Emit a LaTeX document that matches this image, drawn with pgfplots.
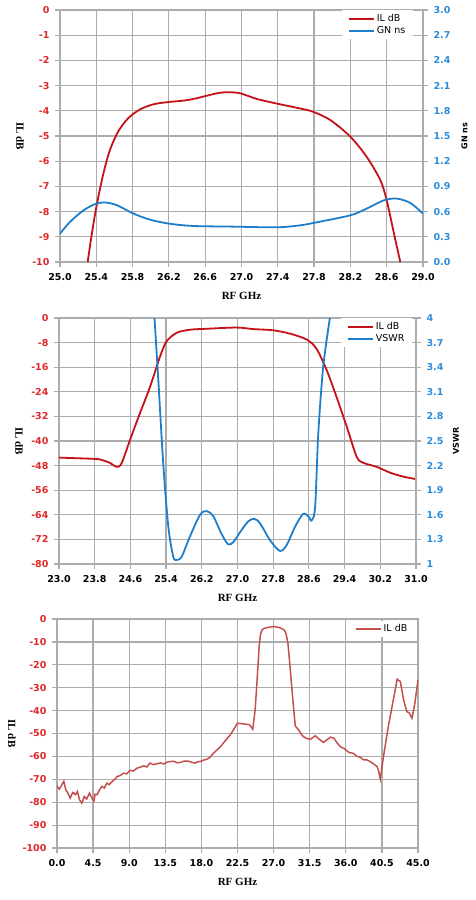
\documentclass[border=0pt]{standalone}
\usepackage{pgfplots}
\pgfplotsset{compat=1.18}
\usepackage{fontspec}
\setmainfont{DejaVu Sans}
\newfontfamily\serifB{Liberation Serif}
\newfontfamily\sansA{DejaVu Sans}
\newcommand\tickfont{\sansA\bfseries\fontsize{9.5}{10}\selectfont}
\newcommand\labfont{\serifB\bfseries\fontsize{11}{12}\selectfont}
\newcommand\rlabfont{\sansA\bfseries\fontsize{8}{10}\selectfont}
\newcommand\legfont{\sansA\fontsize{9.5}{11}\selectfont}
\definecolor{ilred}{RGB}{196,18,24}
\definecolor{gnblue}{RGB}{30,126,204}
\definecolor{tickred}{RGB}{224,40,40}
\definecolor{tickblue}{RGB}{44,140,220}
\definecolor{gridgray}{RGB}{172,172,172}
\definecolor{cthree}{RGB}{196,80,77}
\pgfplotsset{
  mybase/.style={
    scale only axis,
    axis line style={gridgray, line width=1.2pt},
    every tick/.style={gridgray, line width=1.2pt},
    tick align=outside,
    major tick length=5pt,
    ticklabel style={font=\tickfont},
    xticklabel style={black, yshift=-3pt},
    every axis x label/.style={at={(axis description cs:0.5,0)}, yshift=-34pt, anchor=center, font=\labfont},
    legend cell align=left,
    legend image code/.code={\draw[##1, line width=1.9pt] (0pt,0pt) -- (25pt,0pt);},
  },
  leftax/.style={
    mybase,
    tick pos=left,
    grid=major,
    grid style={gridgray, line width=1.2pt},
    yticklabel style={tickred, xshift=-2pt},
    every axis y label/.style={at={(axis description cs:#1,0.5)}, rotate=-90, anchor=center, font=\labfont},
  },
  rightax/.style={
    mybase,
    axis y line*=right,
    axis x line=none,
    yticklabel style={tickblue, xshift=2pt},
    every axis y label/.style={at={(axis description cs:#1,0.5)}, rotate=90, anchor=center, inner sep=1pt, font=\rlabfont},
    legend style={fill=white, draw=none, font=\legfont, inner xsep=6pt, inner ysep=2.5pt, row sep=1pt, nodes={inner sep=1.5pt}},
  },
}
\begin{document}
\begin{tikzpicture}
\path[use as bounding box] (0,0) rectangle (475pt,-900pt);
% ---------------- Chart 1 ----------------
\begin{axis}[leftax=-0.11, at={(60pt,-10pt)}, anchor=north west, width=363pt, height=252pt,
  xmin=25, xmax=29, ymin=-10, ymax=0,
  xtick={25,25.4,25.8,26.2,26.6,27,27.4,27.8,28.2,28.6,29},
  xticklabels={25.0,25.4,25.8,26.2,26.6,27.0,27.4,27.8,28.2,28.6,29.0},
  ytick={-10,-9,-8,-7,-6,-5,-4,-3,-2,-1,0},
  yticklabels={-10,-9,-8,-7,-6,-5,-4,-3,-2,-1,0},
  xlabel={RF GHz}, ylabel={IL dB}]
\addplot[ilred, line width=1.8pt, smooth, tension=0.5] coordinates {
(25.305,-10)(25.35,-8.9)(25.404,-7.75)(25.478,-6.49)(25.55,-5.56)(25.64,-4.83)(25.75,-4.30)(25.88,-3.95)(26.03,-3.74)(26.2,-3.65)(26.35,-3.60)(26.47,-3.53)(26.62,-3.40)(26.75,-3.29)(26.86,-3.26)(26.99,-3.31)(27.17,-3.53)(27.41,-3.73)(27.65,-3.91)(27.79,-4.04)(27.98,-4.37)(28.20,-5.03)(28.38,-5.83)(28.53,-6.75)(28.60,-7.55)(28.68,-8.87)(28.75,-10)};
\end{axis}
\begin{axis}[rightax=1.114, at={(60pt,-10pt)}, anchor=north west, width=363pt, height=252pt,
  xmin=25, xmax=29, ymin=0, ymax=3,
  ytick={0,0.3,0.6,0.9,1.2,1.5,1.8,2.1,2.4,2.7,3.0},
  yticklabels={0.0,0.3,0.6,0.9,1.2,1.5,1.8,2.1,2.4,2.7,3.0},
  ylabel={GN ns},
  legend style={at={(0.9725,1)}, anchor=north east}]
\addlegendimage{ilred}
\addlegendentry{IL dB}
\addplot[gnblue, line width=1.8pt, smooth, tension=0.5] coordinates {
(25.0,0.338)(25.11,0.477)(25.26,0.616)(25.40,0.695)(25.51,0.707)(25.63,0.675)(25.81,0.576)(25.99,0.505)(26.20,0.457)(26.47,0.429)(26.91,0.421)(27.39,0.413)(27.65,0.437)(27.83,0.473)(28.20,0.556)(28.38,0.636)(28.57,0.735)(28.71,0.755)(28.86,0.703)(29.0,0.576)};
\addlegendentry{GN ns}
\end{axis}
% ---------------- Chart 2 ----------------
\begin{axis}[leftax=-0.112, at={(59pt,-318pt)}, anchor=north west, width=357pt, height=246pt,
  xmin=23, xmax=31, ymin=-80, ymax=0,
  xtick={23,23.8,24.6,25.4,26.2,27,27.8,28.6,29.4,30.2,31},
  xticklabels={23.0,23.8,24.6,25.4,26.2,27.0,27.8,28.6,29.4,30.2,31.0},
  ytick={-80,-72,-64,-56,-48,-40,-32,-24,-16,-8,0},
  yticklabels={-80,-72,-64,-56,-48,-40,-32,-24,-16,-8,0},
  xlabel={RF GHz}, ylabel={IL dB}]
\addplot[ilred, line width=1.8pt, smooth, tension=0.5] coordinates {
(23.0,-45.4)(23.4,-45.6)(23.77,-45.8)(23.92,-46.0)(24.14,-47.1)(24.29,-48.4)(24.40,-47.3)(24.59,-39.7)(24.81,-31.1)(25.04,-22.4)(25.26,-12.7)(25.41,-7.6)(25.64,-4.8)(25.94,-3.8)(26.31,-3.5)(26.98,-3.1)(27.35,-3.6)(27.80,-4.0)(28.18,-5.1)(28.55,-7.0)(28.77,-10.0)(29.0,-17.0)(29.22,-25.7)(29.45,-35.4)(29.67,-45.1)(29.82,-47.1)(30.12,-48.4)(30.42,-50.3)(30.72,-51.6)(31.0,-52.4)};
\end{axis}
\begin{axis}[rightax=1.112, at={(59pt,-318pt)}, anchor=north west, width=357pt, height=246pt,
  xmin=23, xmax=31, ymin=1, ymax=4,
  ytick={1,1.3,1.6,1.9,2.2,2.5,2.8,3.1,3.4,3.7,4},
  yticklabels={1,1.3,1.6,1.9,2.2,2.5,2.8,3.1,3.4,3.7,4},
  ylabel={VSWR},
  legend style={at={(0.989,1)}, anchor=north east}]
\addlegendimage{ilred}
\addlegendentry{IL dB}
\addplot[gnblue, line width=1.8pt, smooth, tension=0.5] coordinates {
(25.14,4.0)(25.23,3.20)(25.34,2.19)(25.45,1.455)(25.56,1.09)(25.64,1.05)(25.75,1.09)(25.93,1.33)(26.16,1.60)(26.31,1.645)(26.46,1.58)(26.64,1.37)(26.79,1.24)(26.91,1.27)(27.06,1.39)(27.24,1.52)(27.37,1.55)(27.50,1.50)(27.73,1.29)(27.95,1.16)(28.10,1.23)(28.29,1.455)(28.47,1.61)(28.59,1.58)(28.66,1.53)(28.74,1.70)(28.81,2.59)(28.92,3.40)(29.07,4.0)};
\addlegendentry{VSWR}
\end{axis}
% ---------------- Chart 3 ----------------
\begin{axis}[leftax=-0.125, at={(57pt,-619pt)}, anchor=north west, width=361pt, height=229pt,
  tick pos=left,
  xmin=0, xmax=45, ymin=-100, ymax=0,
  xtick={0,4.5,9,13.5,18,22.5,27,31.5,36,40.5,45},
  xticklabels={0.0,4.5,9.0,13.5,18.0,22.5,27.0,31.5,36.0,40.5,45.0},
  ytick={-100,-90,-80,-70,-60,-50,-40,-30,-20,-10,0},
  yticklabels={-100,-90,-80,-70,-60,-50,-40,-30,-20,-10,0},
  xlabel={RF GHz}, ylabel={IL dB},
  legend style={fill=white, draw=none, font=\legfont, inner xsep=5pt, inner ysep=2pt, nodes={inner sep=1.5pt}, at={(0.989,0.991)}, anchor=north east}]
\addplot[cthree, line width=1.5pt] coordinates {
(0,-73.1)(0.3,-74.3)(0.6,-72.4)(0.85,-70.9)(1.1,-74.6)(1.35,-76.0)(1.65,-78.2)(1.85,-76.5)(2.0,-75.7)(2.3,-76.7)(2.55,-75.3)(2.8,-78.9)(3.1,-80.4)(3.4,-77.5)(3.7,-78.6)(4.05,-76.0)(4.35,-78.2)(4.6,-79.5)(4.75,-76.5)(5.0,-76.7)(5.3,-74.6)(5.6,-73.1)(5.9,-73.8)(6.2,-71.7)(6.5,-72.3)(6.9,-70.9)(7.2,-70.0)(7.5,-68.8)(7.9,-68.3)(8.3,-67.3)(8.7,-67.6)(9.1,-66.1)(9.5,-66.4)(10.0,-65.1)(10.4,-64.7)(10.8,-64.1)(11.2,-64.6)(11.6,-62.9)(12.0,-63.6)(12.5,-63.2)(12.9,-62.8)(13.3,-63.3)(13.8,-62.4)(14.5,-62.1)(15.0,-62.8)(15.4,-62.6)(15.9,-62.0)(16.4,-62.1)(16.8,-62.6)(17.2,-62.9)(17.6,-62.3)(17.9,-62.2)(18.3,-61.6)(18.7,-61.2)(19.1,-60.3)(19.5,-58.6)(20.0,-57.0)(20.4,-55.7)(21.0,-53.0)(21.6,-50.6)(22.1,-47.8)(22.5,-45.5)(23.3,-45.8)(24.0,-46.2)(24.4,-48.1)(24.7,-39.7)(25.05,-20.8)(25.2,-12.0)(25.35,-7.0)(25.55,-4.8)(25.8,-4.1)(26.4,-3.6)(27.0,-3.3)(27.7,-3.7)(28.25,-4.6)(28.5,-5.8)(28.65,-8.0)(28.8,-11.0)(29.08,-22.0)(29.4,-35.3)(29.7,-46.7)(30.1,-48.4)(30.6,-51.0)(31.0,-52.0)(31.6,-52.5)(32.2,-51.0)(32.7,-52.5)(33.2,-53.9)(33.7,-52.6)(34.1,-51.6)(34.5,-52.0)(34.9,-54.0)(35.3,-55.7)(35.8,-56.6)(36.4,-58.3)(36.9,-58.6)(37.4,-60.0)(37.8,-60.3)(38.2,-61.5)(38.6,-61.5)(39.0,-62.2)(39.4,-63.1)(39.9,-64.4)(40.1,-66.5)(40.3,-69.9)(40.7,-60.0)(41.3,-46.9)(42.0,-33.9)(42.4,-26.3)(42.8,-27.3)(43.2,-35.3)(43.6,-40.4)(43.9,-41.0)(44.25,-43.3)(44.6,-37.0)(45.0,-26.6)};
\addlegendentry{IL dB}
\end{axis}
\end{tikzpicture}
\end{document}
